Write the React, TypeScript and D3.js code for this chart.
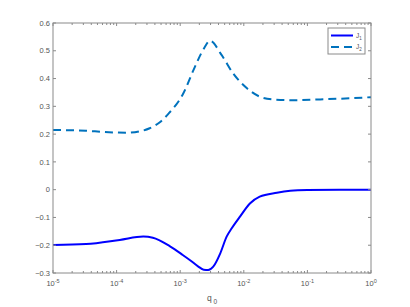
import React, { useEffect, useRef } from "react";
import * as d3 from "d3";

// log10(q0) positions and values
const j1LogQ = [-5, -4.48, -3.95, -3.58, -3.43, -3.16, -2.96, -2.85, -2.72, -2.63, -2.56, -2.48, -2.37, -2.27, -2.19, -2.06, -1.9, -1.75, -1.48, -1.27, -1.0, -0.5, 0];
const j1Val = [-0.199, -0.196, -0.181, -0.169, -0.173, -0.204, -0.235, -0.253, -0.276, -0.288, -0.289, -0.277, -0.229, -0.169, -0.139, -0.097, -0.049, -0.025, -0.011, -0.004, -0.001, 0, 0];

const j2LogQ = [-5, -4.48, -4.21, -3.85, -3.64, -3.48, -3.32, -3.19, -2.95, -2.79, -2.64, -2.53, -2.35, -2.17, -1.95, -1.75, -1.54, -1.22, -0.8, -0.33, 0];
const j2Val = [0.215, 0.212, 0.208, 0.205, 0.21, 0.221, 0.243, 0.272, 0.347, 0.431, 0.503, 0.536, 0.485, 0.419, 0.365, 0.335, 0.325, 0.322, 0.325, 0.329, 0.333];

const yTicks = [-0.3, -0.2, -0.1, 0, 0.1, 0.2, 0.3, 0.4, 0.5, 0.6];
const xExps = [-5, -4, -3, -2, -1, 0];
const seriesNames = ["1", "2"];

const W = 410;
const H = 307;
const m = { left: 53, right: 39, top: 23, bottom: 34 };

export default function App() {
  const ref = useRef<SVGSVGElement>(null);

  useEffect(() => {
    const svg = d3.select(ref.current);
    svg.selectAll("*").remove();

    const x = d3.scaleLog().domain([1e-5, 1]).range([m.left, W - m.right]);
    const y = d3.scaleLinear().domain([-0.3, 0.6]).range([H - m.bottom, m.top]);
    const axisCol = "#8a8a8a";
    const textCol = "#555";
    const font = "Liberation Sans, Arial, sans-serif";

    svg.append("rect").attr("width", W).attr("height", H).attr("fill", "#fff");

    const line = d3
      .line<[number, number]>()
      .x((d) => x(Math.pow(10, d[0])))
      .y((d) => y(d[1]))
      .curve(d3.curveMonotoneX);

    const j1 = j1LogQ.map((q, i) => [q, j1Val[i]] as [number, number]);
    const j2 = j2LogQ.map((q, i) => [q, j2Val[i]] as [number, number]);

    svg
      .append("path")
      .attr("d", line(j2))
      .attr("fill", "none")
      .attr("stroke", "#0072bd")
      .attr("stroke-width", 2)
      .attr("stroke-dasharray", "8,5");

    svg
      .append("path")
      .attr("d", line(j1))
      .attr("fill", "none")
      .attr("stroke", "#0000ff")
      .attr("stroke-width", 2);

    // box
    const [x0, x1] = x.range();
    const [y0, y1] = y.range();
    svg
      .append("rect")
      .attr("x", x0)
      .attr("y", y1)
      .attr("width", x1 - x0)
      .attr("height", y0 - y1)
      .attr("fill", "none")
      .attr("stroke", axisCol)
      .attr("stroke-width", 1);

    // y ticks, both sides, pointing inward
    const g = svg.append("g").attr("stroke", axisCol).attr("stroke-width", 1);
    yTicks.forEach((t) => {
      g.append("line").attr("x1", x0).attr("x2", x0 + 3).attr("y1", y(t)).attr("y2", y(t));
      g.append("line").attr("x1", x1).attr("x2", x1 - 3).attr("y1", y(t)).attr("y2", y(t));
      svg
        .append("text")
        .attr("x", x0 - 3)
        .attr("y", y(t))
        .attr("dy", "0.35em")
        .attr("text-anchor", "end")
        .attr("font-family", font)
        .attr("font-size", 7.5)
        .attr("fill", textCol)
        .text(Math.abs(t) < 1e-9 ? "0" : d3.format(".1f")(t));
    });

    // x ticks major + minor
    xExps.forEach((e) => {
      for (let k = 1; k <= 9; k++) {
        const v = k * Math.pow(10, e);
        if (v > 1) break;
        const len = k === 1 ? 3 : 2;
        g.append("line").attr("x1", x(v)).attr("x2", x(v)).attr("y1", y0).attr("y2", y0 - len);
        g.append("line").attr("x1", x(v)).attr("x2", x(v)).attr("y1", y1).attr("y2", y1 + len);
      }
      const t = svg
        .append("text")
        .attr("x", x(Math.pow(10, e)))
        .attr("y", y0 + 13)
        .attr("text-anchor", "middle")
        .attr("font-family", font)
        .attr("font-size", 7.5)
        .attr("fill", textCol);
      t.append("tspan").text("10");
      t.append("tspan").attr("dy", -3).attr("font-size", 5.5).text(String(e));
    });

    // x label
    const xl = svg
      .append("text")
      .attr("x", (x0 + x1) / 2)
      .attr("y", H - 6)
      .attr("text-anchor", "middle")
      .attr("font-family", font)
      .attr("font-size", 8.5)
      .attr("fill", textCol);
    xl.append("tspan").text("q");
    xl.append("tspan").attr("dy", 3).attr("font-size", 6.5).text(" 0");

    // legend
    const lg = svg.append("g");
    lg.append("rect")
      .attr("x", 328)
      .attr("y", 28)
      .attr("width", 37)
      .attr("height", 26)
      .attr("fill", "#fff")
      .attr("stroke", axisCol)
      .attr("stroke-width", 1);
    const styles = [
      { c: "#0000ff", dash: null },
      { c: "#0072bd", dash: "8,5" },
    ];
    seriesNames.forEach((s, i) => {
      const ly = 35.5 + i * 11.5;
      lg.append("line")
        .attr("x1", 331)
        .attr("x2", 353)
        .attr("y1", ly)
        .attr("y2", ly)
        .attr("stroke", styles[i].c)
        .attr("stroke-width", 2)
        .attr("stroke-dasharray", styles[i].dash);
      const t = lg
        .append("text")
        .attr("x", 356)
        .attr("y", ly + 2)
        .attr("font-family", font)
        .attr("font-size", 6.5)
        .attr("fill", textCol);
      t.append("tspan").text("J");
      t.append("tspan").attr("dy", 2).attr("font-size", 4.5).text(s);
    });
  }, []);

  return (
    <div style={{ position: "absolute", left: 0, top: 0 }}>
      <svg ref={ref} width={W} height={H} />
    </div>
  );
}
